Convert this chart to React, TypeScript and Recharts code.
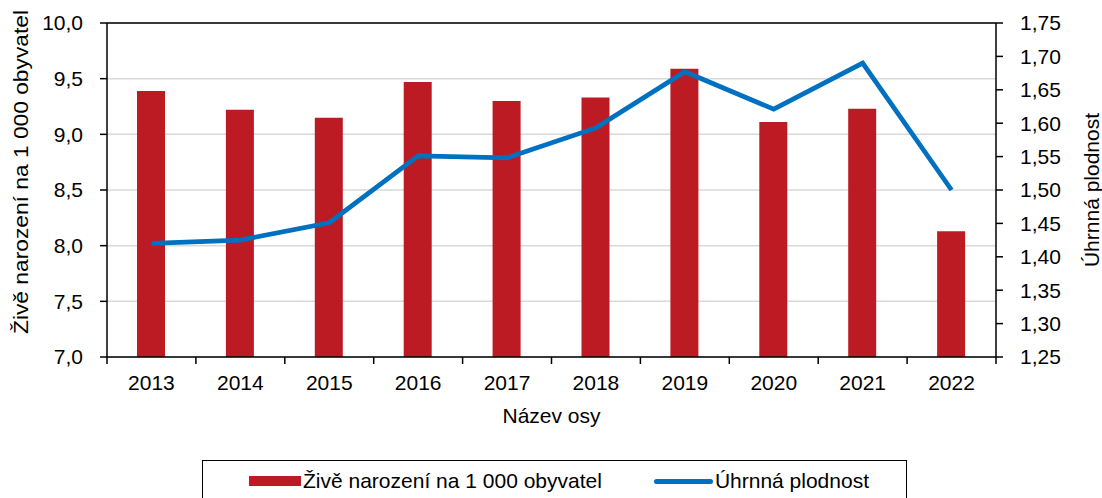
import React from 'react';
import { ComposedChart, Bar, Line, XAxis, YAxis, CartesianGrid, ReferenceLine, Legend, Label } from 'recharts';

const years = ['2013', '2014', '2015', '2016', '2017', '2018', '2019', '2020', '2021', '2022'];
const birthRate = [9.39, 9.22, 9.15, 9.47, 9.3, 9.33, 9.59, 9.11, 9.23, 8.13];
const fertility = [1.42, 1.425, 1.451, 1.551, 1.548, 1.593, 1.677, 1.621, 1.69, 1.5];
const leftTicks = [7, 7.5, 8, 8.5, 9, 9.5, 10];
const rightTicks = [1.25, 1.3, 1.35, 1.4, 1.45, 1.5, 1.55, 1.6, 1.65, 1.7, 1.75];

const seriesBarName = 'Živě narození na 1 000 obyvatel';
const seriesLineName = 'Úhrnná plodnost';
const xTitle = 'Název osy';

const data = years.map((y, i) => ({ year: y, birth: birthRate[i], tfr: fertility[i] }));

const FONT = '"Liberation Sans", Arial, sans-serif';
const FS = 21;
const BAR_COLOR = '#BD1B24';
const LINE_COLOR = '#0070C0';

const XTick = (props: any) => {
  const { x, y, payload, index, visibleTicksCount } = props;
  const half = payload && typeof payload.offset === 'number' ? payload.offset : 0;
  const axisY = y - 11 - 7;
  const isLast = index === visibleTicksCount - 1;
  return (
    <g>
      <line x1={x - half} x2={x - half} y1={axisY} y2={axisY + 7} stroke="#000" strokeWidth={1.5} />
      {isLast && <line x1={x + half} x2={x + half} y1={axisY} y2={axisY + 7} stroke="#000" strokeWidth={1.5} />}
      <text x={x} y={y} dy="0.71em" textAnchor="middle" fontSize={FS} fontFamily={FONT} fill="#000">
        {payload.value}
      </text>
    </g>
  );
};

const LegendContent = () => (
  <div
    style={{
      boxSizing: 'border-box',
      width: '100%',
      height: 42,
      border: '1.5px solid #000',
      display: 'flex',
      alignItems: 'center',
      paddingLeft: 46,
      fontFamily: FONT,
      fontSize: FS,
      color: '#000',
      whiteSpace: 'nowrap',
    }}
  >
    <span style={{ display: 'inline-block', width: 52, height: 10, background: BAR_COLOR, marginRight: 2 }} />
    <span>{seriesBarName}</span>
    <span style={{ display: 'inline-block', width: 59, height: 5, background: LINE_COLOR, borderRadius: 2.5, marginLeft: 52, marginRight: 2 }} />
    <span>{seriesLineName}</span>
  </div>
);

export default function App() {
  return (
    <div style={{ position: 'absolute', left: 0, top: 0, width: 1102, height: 498, background: '#fff' }}>
      <ComposedChart
        width={1102}
        height={498}
        data={data}
        margin={{ top: 23, right: 0, bottom: 0, left: 0 }}
        barCategoryGap="34%"
      >
        <CartesianGrid yAxisId="left" horizontal vertical={false} stroke="#d9d9d9" strokeWidth={1.5} />
        <XAxis
          dataKey="year"
          height={141}
          axisLine={{ stroke: '#000', strokeWidth: 1.5 }}
          tickLine={false}
          tickSize={7}
          tickMargin={11}
          tick={<XTick />}
          interval={0}
        >
          <Label
            content={(p: any) => {
              const vb = p.viewBox || { x: 0, y: 0, width: 0, height: 0 };
              return (
                <text x={vb.x + vb.width / 2} y={vb.y + 58} textAnchor="middle" dominantBaseline="central" fontSize={FS} fontFamily={FONT} fill="#000">
                  {xTitle}
                </text>
              );
            }}
          />
        </XAxis>
        <YAxis
          yAxisId="left"
          orientation="left"
          width={107}
          domain={[7, 10]}
          ticks={leftTicks}
          allowDataOverflow
          axisLine={{ stroke: '#000', strokeWidth: 1.5 }}
          tickLine={{ stroke: '#000', strokeWidth: 1.5 }}
          tickSize={7}
          tickMargin={17}
          tick={{ fontSize: FS, fontFamily: FONT, fill: '#000' }}
          tickFormatter={(v: number) => v.toFixed(1).replace('.', ',')}
        >
          <Label
            content={(p: any) => {
              const vb = p.viewBox || { x: 0, y: 0, width: 0, height: 0 };
              const cx = vb.x + 20;
              const cy = vb.y + vb.height / 2 - 18;
              return (
                <text
                  x={cx}
                  y={cy}
                  transform={`rotate(-90, ${cx}, ${cy})`}
                  textAnchor="middle"
                  dominantBaseline="central"
                  fontSize={FS}
                  fontFamily={FONT}
                  fill="#000"
                  textLength={324}
                  lengthAdjust="spacingAndGlyphs"
                >
                  {seriesBarName}
                </text>
              );
            }}
          />
        </YAxis>
        <YAxis
          yAxisId="right"
          orientation="right"
          width={106}
          domain={[1.25, 1.75]}
          ticks={rightTicks}
          allowDataOverflow
          axisLine={{ stroke: '#000', strokeWidth: 1.5 }}
          tickLine={{ stroke: '#000', strokeWidth: 1.5 }}
          tickSize={7}
          tickMargin={17}
          tick={{ fontSize: FS, fontFamily: FONT, fill: '#000' }}
          tickFormatter={(v: number) => v.toFixed(2).replace('.', ',')}
        >
          <Label
            content={(p: any) => {
              const vb = p.viewBox || { x: 0, y: 0, width: 0, height: 0 };
              const cx = vb.x + 95;
              const cy = vb.y + vb.height / 2;
              return (
                <text x={cx} y={cy} transform={`rotate(-90, ${cx}, ${cy})`} textAnchor="middle" dominantBaseline="central" fontSize={FS} fontFamily={FONT} fill="#000">
                  {seriesLineName}
                </text>
              );
            }}
          />
        </YAxis>
        <ReferenceLine yAxisId="left" y={10} stroke="#000" strokeWidth={1.5} />
        <Bar yAxisId="left" dataKey="birth" name={seriesBarName} fill={BAR_COLOR} barSize={28} isAnimationActive={false} />
        <Line
          yAxisId="right"
          type="linear"
          dataKey="tfr"
          name={seriesLineName}
          stroke={LINE_COLOR}
          strokeWidth={4.75}
          dot={false}
          activeDot={false}
          isAnimationActive={false}
        />
        <Legend
          layout="horizontal"
          verticalAlign="middle"
          align="center"
          content={<LegendContent />}
          wrapperStyle={{ position: 'absolute', left: 202, top: 460, width: 705, height: 42 }}
        />
      </ComposedChart>
    </div>
  );
}
